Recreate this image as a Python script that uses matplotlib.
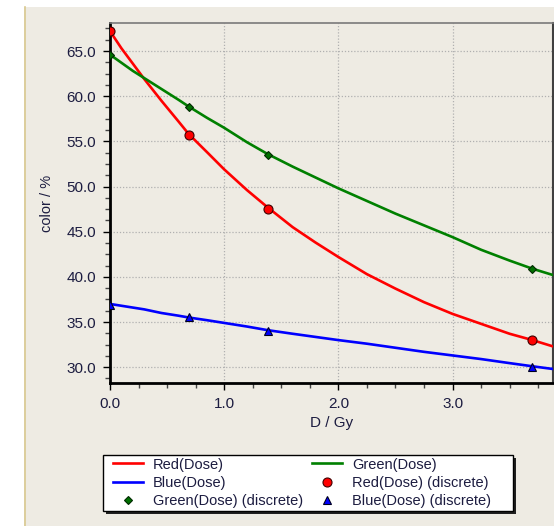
import matplotlib
matplotlib.use("Agg")
import matplotlib.pyplot as plt
from matplotlib.patches import Rectangle
from matplotlib.lines import Line2D
from matplotlib.ticker import MultipleLocator, FormatStrFormatter

# ---- data ----
dose_curve = [0.0, 0.1, 0.2, 0.3, 0.45, 0.6, 0.69, 0.85, 1.0, 1.2, 1.38, 1.6, 1.8,
              2.0, 2.25, 2.5, 2.75, 3.0, 3.25, 3.5, 3.7, 3.88]
red_curve = [67.2, 65.3, 63.6, 61.9, 59.5, 57.2, 55.8, 53.8, 51.9, 49.6, 47.7, 45.5, 43.8,
             42.2, 40.3, 38.7, 37.2, 35.9, 34.8, 33.7, 33.0, 32.3]
green_curve = [64.6, 63.7, 62.8, 62.0, 60.8, 59.6, 58.85, 57.6, 56.5, 54.9, 53.6, 52.2, 51.0,
               49.8, 48.4, 47.0, 45.7, 44.4, 43.0, 41.8, 40.9, 40.2]
blue_curve = [37.0, 36.8, 36.6, 36.4, 36.0, 35.7, 35.5, 35.2, 34.9, 34.5, 34.1, 33.7, 33.35,
              33.0, 32.6, 32.15, 31.7, 31.3, 30.9, 30.45, 30.1, 29.8]

dose_discrete = [0.0, 0.69, 1.38, 3.7]
red_discrete = [67.2, 55.7, 47.5, 33.0]
green_discrete = [64.6, 58.8, 53.5, 40.9]
blue_discrete = [36.9, 35.6, 34.0, 30.0]

x_ticks = [0.0, 1.0, 2.0, 3.0]
y_ticks = [30.0, 35.0, 40.0, 45.0, 50.0, 55.0, 60.0, 65.0]

W, H = 554, 526
BG = "#EEEBE3"
TXT = "#1c1c40"
FONT = "Liberation Sans"

plt.rcParams["font.family"] = [FONT, "DejaVu Sans"]

fig = plt.figure(figsize=(W / 100, H / 100), dpi=100)
fig.patch.set_facecolor("white")

# background panel
fig.add_artist(Rectangle((24 / W, 0), 1 - 24 / W, 1 - 7 / H, transform=fig.transFigure,
                         facecolor=BG, edgecolor="none", zorder=0))
fig.add_artist(Line2D([24.5 / W, 24.5 / W], [0, 1 - 7 / H], transform=fig.transFigure,
                      color="#D9C98F", lw=1.2, zorder=1))

ax = fig.add_axes([110 / W, 1 - 383 / H, (553 - 110) / W, (383 - 23) / H])
ax.set_facecolor(BG)

ax.plot(dose_curve, red_curve, color="#FF0000", lw=1.9, label="Red(Dose)", zorder=3)
ax.plot(dose_curve, blue_curve, color="#0000FF", lw=1.9, label="Blue(Dose)", zorder=3)
ax.plot(dose_discrete, green_discrete, ls="none", marker="D", ms=4.5, mfc="#007000",
        mec="#002a00", mew=0.8, label="Green(Dose) (discrete)", zorder=4)
ax.plot(dose_curve, green_curve, color="#008000", lw=1.9, label="Green(Dose)", zorder=3)
ax.plot(dose_discrete, red_discrete, ls="none", marker="o", ms=6.5, mfc="#FF0000",
        mec="#400000", mew=0.8, label="Red(Dose) (discrete)", zorder=4)
ax.plot(dose_discrete, blue_discrete, ls="none", marker="^", ms=6, mfc="#0000FF",
        mec="#000020", mew=0.8, label="Blue(Dose) (discrete)", zorder=4)

ax.set_xlim(0, 3.88)
ax.set_ylim(28.25, 68.1)
ax.set_xticks(x_ticks)
ax.set_yticks(y_ticks)
ax.xaxis.set_major_formatter(FormatStrFormatter("%.1f"))
ax.yaxis.set_major_formatter(FormatStrFormatter("%.1f"))
ax.xaxis.set_minor_locator(MultipleLocator(0.25))
ax.yaxis.set_minor_locator(MultipleLocator(1.25))

ax.grid(True, which="major", color="#B0B0B0", ls=(0, (1, 1.5)), lw=0.9)
ax.tick_params(which="major", direction="out", length=5, width=1, colors="black",
               labelcolor=TXT, labelsize=11, pad=5)
ax.tick_params(which="minor", direction="out", length=3.5, width=1, colors="#444444")

for s in ["left", "bottom"]:
    ax.spines[s].set_color("black")
    ax.spines[s].set_linewidth(2.0)
ax.spines["top"].set_color("#7a7a7a")
ax.spines["top"].set_linewidth(1.2)
ax.spines["right"].set_color("#404040")
ax.spines["right"].set_linewidth(1.5)

ax.set_xlabel("D / Gy", fontsize=11, color=TXT, labelpad=4)
ax.set_ylabel("color / %", fontsize=10.5, color=TXT, labelpad=9)

# legend box (frame + shadow) drawn explicitly to match the reference size
lx0, ly0, lx1, ly1 = 103, 455, 513, 511
fig.add_artist(Rectangle(((lx0 + 3) / W, 1 - (ly1 + 3) / H), (lx1 - lx0) / W, (ly1 - ly0) / H,
                         transform=fig.transFigure, facecolor="#202020", edgecolor="none",
                         zorder=2))
fig.add_artist(Rectangle((lx0 / W, 1 - ly1 / H), (lx1 - lx0) / W, (ly1 - ly0) / H,
                         transform=fig.transFigure, facecolor="white", edgecolor="black",
                         lw=1.0, zorder=2.1))

handles, labels = ax.get_legend_handles_labels()
leg = fig.legend(handles, labels, ncol=2, loc="upper left",
                 bbox_to_anchor=(113 / W, 1 - 457.5 / H),
                 borderaxespad=0, fontsize=10.5, frameon=False,
                 handlelength=2.05, handletextpad=0.7, labelspacing=0.29,
                 borderpad=0.0, columnspacing=0.62)
leg.set_zorder(3)
for t in leg.get_texts():
    t.set_color(TXT)

fig.savefig("out.png", dpi=100, facecolor="white")
